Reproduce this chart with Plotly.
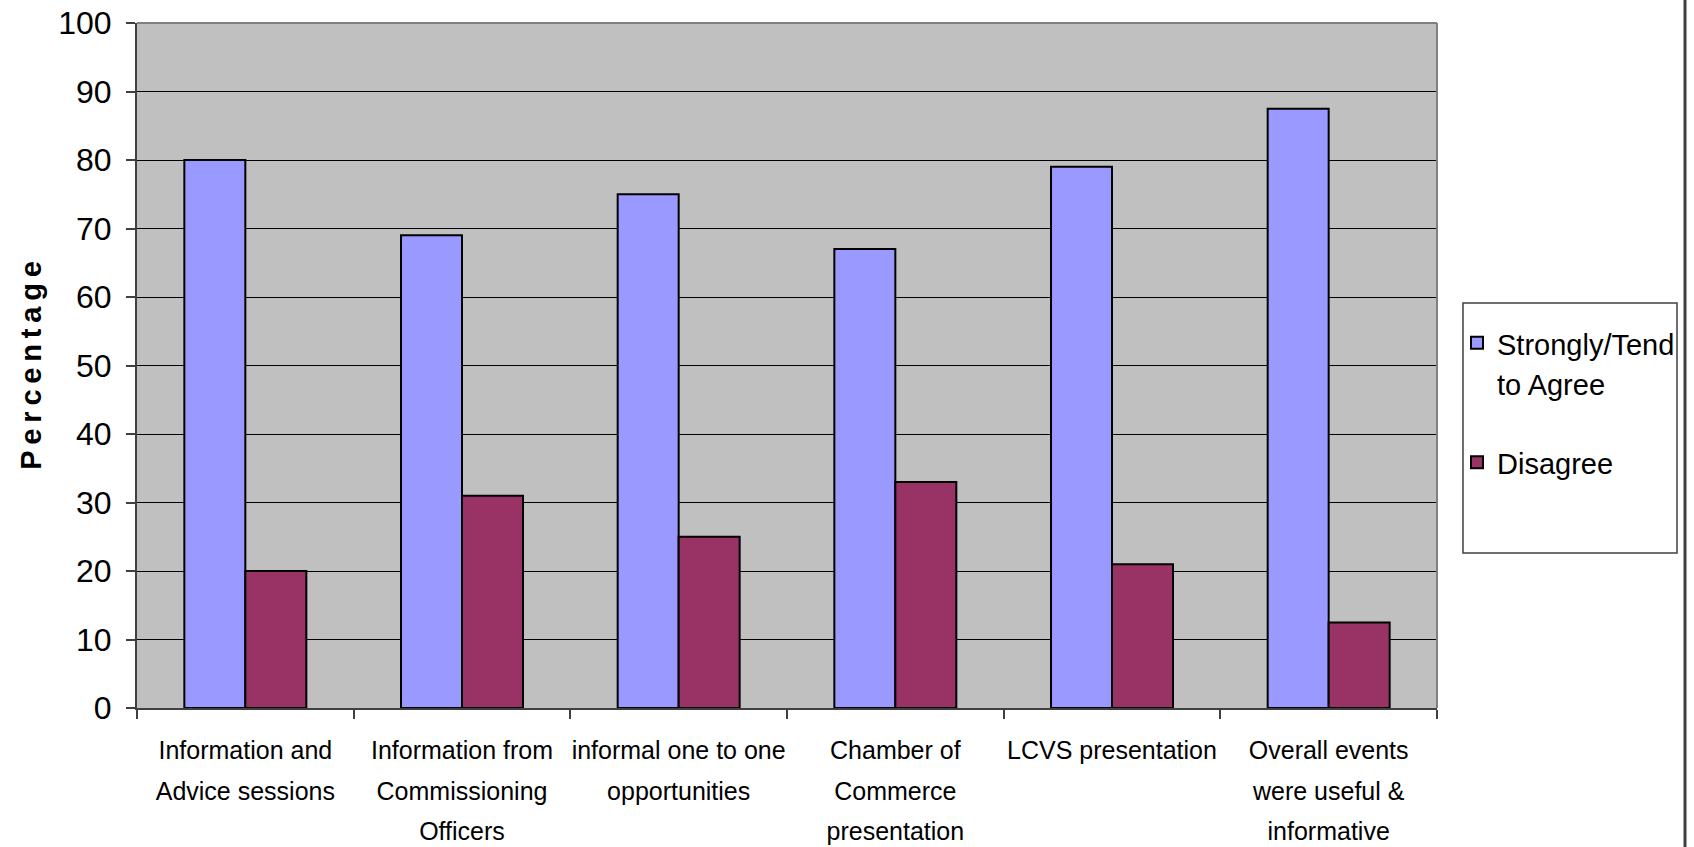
import plotly.graph_objects as go

# Survey results: share of respondents agreeing / disagreeing per event item
categories = [
    "Information and Advice sessions",
    "Information from Commissioning Officers",
    "informal one to one opportunities",
    "Chamber of Commerce presentation",
    "LCVS presentation",
    "Overall events were useful & informative",
]
category_lines = [
    ["Information and", "Advice sessions"],
    ["Information from", "Commissioning", "Officers"],
    ["informal one to one", "opportunities"],
    ["Chamber of", "Commerce", "presentation"],
    ["LCVS presentation"],
    ["Overall events", "were useful &", "informative"],
]
agree = [80, 69, 75, 67, 79, 87.5]
disagree = [20, 31, 25, 33, 21, 12.5]
series_lines = [["Strongly/Tend", "to Agree"], ["Disagree"]]
y_ticks = list(range(0, 101, 10))

W, H = 1694, 847
L, R, T, B = 137, 1437, 23, 708  # plot area in pixels


def px_x(x):
    return (x - L) / (R - L)


def px_y(y):
    return (B - y) / (B - T)


def stacked(lines, size):
    # glyph size set per line; the surrounding font size drives line spacing
    return "<br>".join(f"<span style='font-size:{size}px'>{s}</span>" for s in lines)


font = "Liberation Sans, Arial, sans-serif"

fig = go.Figure()
fig.add_trace(go.Bar(
    x=categories, y=agree, name=stacked(series_lines[0], 29), legendgroup="a",
    marker=dict(color="#9999FF", line=dict(color="#000000", width=2)),
))
fig.add_trace(go.Bar(
    x=categories, y=disagree, name=stacked(series_lines[1], 29), legendgroup="d",
    marker=dict(color="#993366", line=dict(color="#000000", width=2)),
))

# Legend frame, plot-area top/right border and the outer right rule
shapes = [
    dict(type="rect", xref="paper", yref="paper",
         x0=px_x(1463), x1=px_x(1677), y0=px_y(553), y1=px_y(303),
         line=dict(color="#404040", width=1.5), fillcolor="rgba(0,0,0,0)"),
    dict(type="line", xref="paper", yref="paper",
         x0=0, x1=1, y0=1, y1=1, line=dict(color="#808080", width=2)),
    dict(type="line", xref="paper", yref="paper",
         x0=1, x1=1, y0=0, y1=1, line=dict(color="#808080", width=2)),
    dict(type="line", xref="paper", yref="paper",
         x0=px_x(1685), x1=px_x(1685), y0=px_y(H), y1=px_y(0),
         line=dict(color="#404040", width=3)),
]

ytitle = "\u2009".join("Percentage")

fig.update_layout(
    width=W, height=H,
    margin=dict(l=L, r=W - R, t=T, b=H - B, autoexpand=False),
    paper_bgcolor="#FFFFFF",
    plot_bgcolor="#C0C0C0",
    barmode="group",
    bargap=0.437,
    bargroupgap=0,
    showlegend=True,
    legend=dict(
        x=px_x(1457), y=px_y(316), xanchor="left", yanchor="top",
        font=dict(family=font, size=31, color="#000000"),
        bgcolor="rgba(0,0,0,0)", borderwidth=0,
        valign="top", tracegroupgap=36, traceorder="grouped",
    ),
    shapes=shapes,
    xaxis=dict(
        tickmode="array", tickvals=categories,
        ticktext=[stacked(lines, 25) for lines in category_lines],
        tickson="boundaries", ticks="outside", ticklen=9, tickwidth=1.5,
        tickcolor="#404040", showline=True, linecolor="#404040", linewidth=2,
        showgrid=False,
        tickfont=dict(family=font, size=31, color="#000000"),
        tickangle=0, ticklabelstandoff=12,
    ),
    yaxis=dict(
        range=[0, 100], tickvals=y_ticks, ticks="outside", ticklen=9,
        tickwidth=1.5, tickcolor="#404040",
        showline=True, linecolor="#404040", linewidth=2,
        showgrid=True, gridcolor="#000000", gridwidth=1,
        zeroline=False,
        tickfont=dict(family=font, size=32, color="#000000"),
        ticklabelstandoff=8,
        title=dict(text="<b>" + ytitle + "</b>",
                   font=dict(family=font, size=29, color="#000000"),
                   standoff=8),
    ),
)

fig.write_html("out.html")
